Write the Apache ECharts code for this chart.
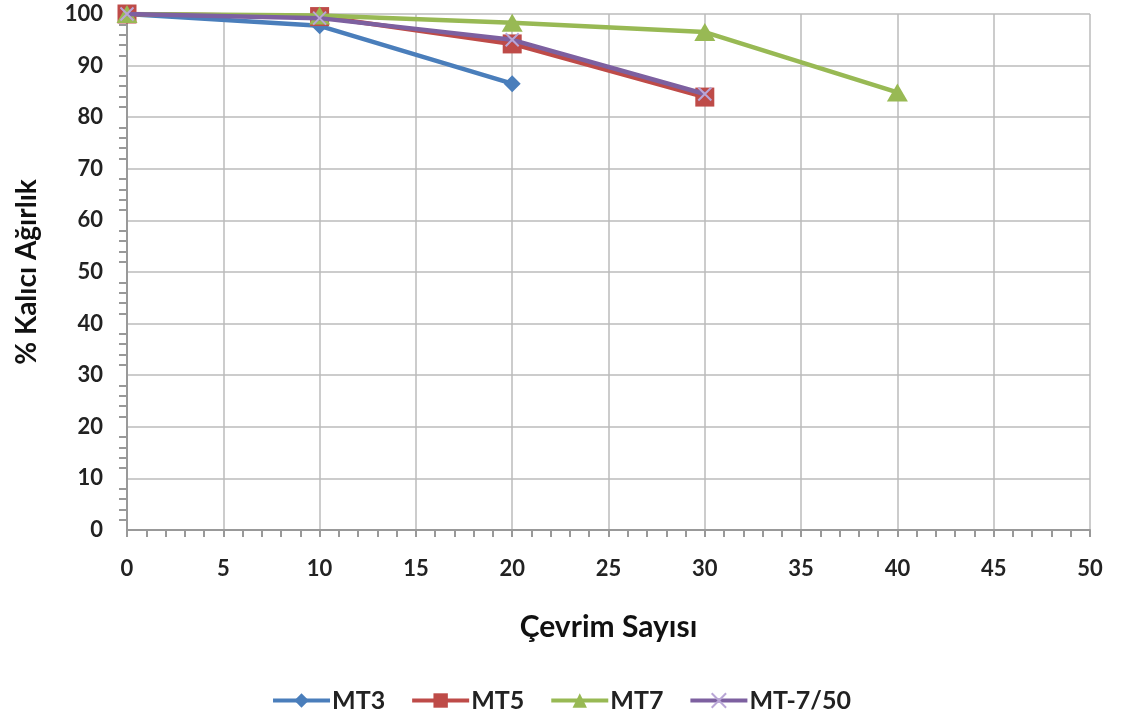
<!DOCTYPE html>
<html><head><meta charset="utf-8">
<script src="https://cdn.jsdelivr.net/npm/echarts@6/dist/echarts.min.js"></script>
<style>html,body{margin:0;padding:0;background:#fff}#c{width:1122px;height:720px}</style>
</head><body><div id="c"></div>
<script>
const xTicks = [0,5,10,15,20,25,30,35,40,45,50];
const yTicks = [0,10,20,30,40,50,60,70,80,90,100];
const mt3 = [[0,100],[10,97.7],[20,86.5]];
const mt5 = [[0,100],[10,99.5],[20,94.2],[30,83.9]];
const mt7 = [[0,100],[10,99.7],[20,98.3],[30,96.5],[40,84.8]];
const mt750 = [[0,100],[10,99.2],[20,95.0],[30,84.5]];
const names = ['MT3','MT5','MT7','MT-7/50'];
const colors = ['#4A7EBB','#BE4B48','#98B954','#7D60A0'];
const symbols = ['diamond','rect','triangle','path://M0,0L10,10M10,0L0,10'];
const sizes = [17,19,[21,18],13];
const datas = [mt3,mt5,mt7,mt750];
const font = 'Lato, "Liberation Sans", Arial, sans-serif';
const chart = echarts.init(document.getElementById('c'));
chart.setOption({
  animation:false,
  grid:{left:127,right:32,top:14,bottom:190},
  legend:{bottom:2,left:'center',itemWidth:57,itemHeight:18,itemGap:25,
    lineStyle:{width:4},
    textStyle:{fontFamily:font,fontWeight:'bold',fontSize:25,color:'#222',padding:[0,0,0,-3]},
    data:names},
  xAxis:{type:'value',min:0,max:50,interval:5,
    name:'Çevrim Sayısı',nameLocation:'middle',nameGap:82,
    nameTextStyle:{fontFamily:font,fontWeight:'bold',fontSize:30,color:'#111'},
    axisLine:{lineStyle:{color:'#999',width:2}},
    axisTick:{show:true,length:7,lineStyle:{color:'#999',width:2}},
    minorTick:{show:true,splitNumber:5,length:7,lineStyle:{color:'#999',width:2}},
    axisLabel:{fontFamily:font,fontWeight:'bold',fontSize:22,color:'#222',margin:28,
      formatter:v=>xTicks.includes(v)?String(v):''},
    splitLine:{show:true,lineStyle:{color:'#bbb',width:1.5}}},
  yAxis:{type:'value',min:0,max:100,interval:10,
    name:'% Kalıcı Ağırlık',nameLocation:'middle',nameGap:86,nameRotate:90,
    nameTextStyle:{fontFamily:font,fontWeight:'bold',fontSize:28,color:'#111'},
    axisLine:{show:true,lineStyle:{color:'#999',width:2}},
    axisTick:{show:false},
    minorTick:{show:true,splitNumber:5,length:8,inside:true,lineStyle:{color:'#999',width:2}},
    axisLabel:{fontFamily:font,fontWeight:'bold',fontSize:22,color:'#222',margin:24,
      formatter:v=>yTicks.includes(v)?String(v):''},
    splitLine:{show:true,lineStyle:{color:'#bbb',width:1.5}}},
  series: names.map((n,i)=>({
    name:n,type:'line',data:datas[i],
    symbol:symbols[i],symbolSize:sizes[i],showAllSymbol:true,
    lineStyle:{color:colors[i],width:4.5},
    itemStyle: i===3 ? {color:'none',borderColor:'#B9A6D6',borderWidth:2} : {color:colors[i],borderWidth:0},
    z: [2,3,4,5][i]
  }))
});
</script></body></html>
